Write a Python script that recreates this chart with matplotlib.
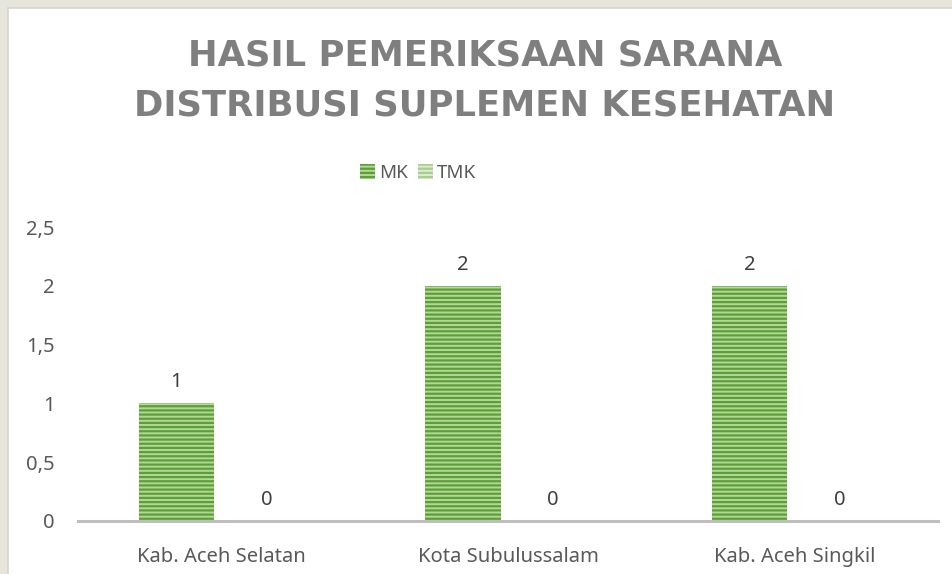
import matplotlib
matplotlib.use('Agg')
import matplotlib.pyplot as plt
import numpy as np
from matplotlib.patches import Rectangle, Patch
from matplotlib.ticker import FuncFormatter

# data
regions = ['Kab. Aceh Selatan', 'Kota Subulussalam', 'Kab. Aceh Singkil']
mk = [1, 2, 2]
tmk = [0, 0, 0]
series_names = ['MK', 'TMK']
title_lines = ['HASIL PEMERIKSAAN SARANA', 'DISTRIBUSI SUPLEMEN KESEHATAN']

plt.rcParams['font.family'] = ['Noto Sans', 'DejaVu Sans']
plt.rcParams['hatch.linewidth'] = 1.6

W, H = 952, 574
fig = plt.figure(figsize=(W / 100, H / 100), dpi=100, facecolor='#e6e6dc')
fig.patches.append(Rectangle((8 / W, -0.1), 1, 1.1 - 8 / H, transform=fig.transFigure,
                             facecolor='white', edgecolor='#d4d4d0', lw=1.2, zorder=-5))

ax = fig.add_axes([78 / W, 53 / H, 860 / W, 294 / H])
ax.set_facecolor('none')

x = np.arange(len(regions))
bw = 0.262
off = 0.157
b1 = ax.bar(x - off, mk, bw, facecolor='#b2d896', edgecolor='#5e9e38', hatch='----', lw=0)
b2 = ax.bar(x + off, tmk, bw, facecolor='#dcebd0', edgecolor='#a9cd8d', hatch='----', lw=0)

fs = 14.5
for rects, vals in [(b1, mk), (b2, tmk)]:
    for r, v in zip(rects, vals):
        ax.annotate(str(v), (r.get_x() + r.get_width() / 2, v), xytext=(0, 8),
                    textcoords='offset points', ha='center', va='bottom',
                    fontsize=fs, color='#404040')

ax.set_xlim(-0.5, 2.5)
ax.set_ylim(0, 2.5)
ax.set_yticks(np.arange(0, 2.51, 0.5))
ax.yaxis.set_major_formatter(FuncFormatter(lambda v, p: ('%g' % v).replace('.', ',')))
ax.set_xticks(x)
ax.set_xticklabels(regions)
ax.tick_params(axis='y', length=0, pad=17, labelsize=fs, labelcolor='#595959')
ax.tick_params(axis='x', length=0, pad=18.5, labelsize=fs, labelcolor='#595959')
for s in ['top', 'right', 'left']:
    ax.spines[s].set_visible(False)
ax.spines['bottom'].set_color('#bfbfbf')
ax.spines['bottom'].set_linewidth(2.2)

handles = [Patch(facecolor='#b2d896', edgecolor='#5e9e38', hatch='----', lw=0),
           Patch(facecolor='#dcebd0', edgecolor='#a9cd8d', hatch='----', lw=0)]
fig.legend(handles, series_names, loc='center', bbox_to_anchor=(418 / W, 1 - 173 / H),
           ncol=2, frameon=False, fontsize=13.5, labelcolor='#595959',
           handlelength=0.8, handleheight=0.8, handletextpad=0.2, columnspacing=0.55)

fig.text(485 / W, 1 - 55 / H, title_lines[0], ha='center', va='center', family='DejaVu Sans',
         fontsize=25.5, fontweight='bold', color='#7f7f7f')
fig.text(485 / W, 1 - 106 / H, title_lines[1], ha='center', va='center', family='DejaVu Sans',
         fontsize=25.5, fontweight='bold', color='#7f7f7f')

fig.savefig('out.png', dpi=100, facecolor=fig.get_facecolor())
